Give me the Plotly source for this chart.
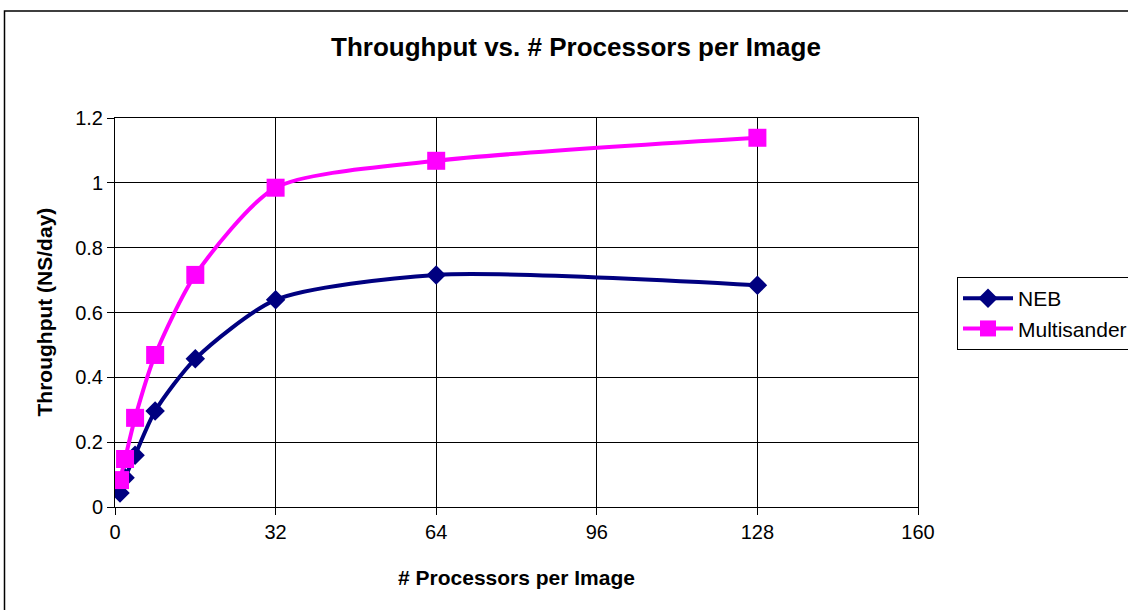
import plotly.graph_objects as go

# Throughput measurements per image size
procs = [1, 2, 4, 8, 16, 32, 64, 128]
neb = [0.043, 0.09, 0.16, 0.296, 0.457, 0.639, 0.716, 0.684]
multisander = [0.083, 0.148, 0.275, 0.469, 0.716, 0.985, 1.068, 1.139]

x_ticks = [0, 32, 64, 96, 128, 160]
y_ticks = [0, 0.2, 0.4, 0.6, 0.8, 1, 1.2]

W, H = 1128, 610
L, R, T, B = 115, 210, 118, 103
pw, ph = W - L - R, H - T - B


def px_x(p):
    return (p - L) / pw


def px_y(p):
    return (H - B - p) / ph


font = "Liberation Sans, Arial, sans-serif"

fig = go.Figure()
fig.add_trace(go.Scatter(
    x=procs, y=neb, name="NEB", mode="lines+markers",
    line=dict(color="#000080", width=4, shape="spline", smoothing=0.7),
    marker=dict(symbol="diamond", size=15, color="#000080"),
))
fig.add_trace(go.Scatter(
    x=procs, y=multisander, name="Multisander", mode="lines+markers",
    line=dict(color="#FF00FF", width=4, shape="spline", smoothing=0.7),
    marker=dict(symbol="square", size=18, color="#FF00FF"),
))

axis_common = dict(
    showgrid=True, gridcolor="black", gridwidth=1,
    showline=True, linecolor="black", linewidth=1, mirror=True,
    ticks="outside", ticklen=7, tickcolor="black",
    zeroline=False,
    tickfont=dict(family=font, size=20, color="black"),
)

fig.update_xaxes(range=[0, 160], tickvals=x_ticks, **axis_common)
fig.update_yaxes(range=[0, 1.2], tickvals=y_ticks,
                 ticktext=[f"{v:g}" for v in y_ticks], **axis_common)

fig.update_layout(
    width=W, height=H,
    margin=dict(l=L, r=R, t=T, b=B),
    paper_bgcolor="white", plot_bgcolor="white",
    title=dict(text="<b>Throughput vs. # Processors per Image</b>",
               x=px_x(576), xref="paper", xanchor="center",
               y=1 - 47 / H, yref="container", yanchor="middle",
               font=dict(family=font, size=26, color="black")),
    legend=dict(x=957 / W, y=1 - 277 / H, xref="container", yref="container",
                xanchor="left", yanchor="top",
                bordercolor="black", borderwidth=1, bgcolor="white",
                font=dict(family=font, size=21, color="black"),
                itemwidth=50, tracegroupgap=0),
    showlegend=True,
    annotations=[
        dict(text="<b># Processors per Image</b>", xref="paper", yref="paper",
             x=0.5, y=px_y(577), xanchor="center", yanchor="middle",
             showarrow=False, font=dict(family=font, size=21, color="black")),
        dict(text="<b>Throughput (NS/day)</b>", xref="paper", yref="paper",
             x=px_x(44), y=0.5, xanchor="center", yanchor="middle",
             textangle=-90, showarrow=False,
             font=dict(family=font, size=21, color="black")),
    ],
    shapes=[dict(type="rect", xref="paper", yref="paper",
                 x0=px_x(4.5), x1=px_x(1135), y0=px_y(615), y1=px_y(11),
                 line=dict(color="black", width=1.5), layer="below")],
)

fig.write_html("out.html")
